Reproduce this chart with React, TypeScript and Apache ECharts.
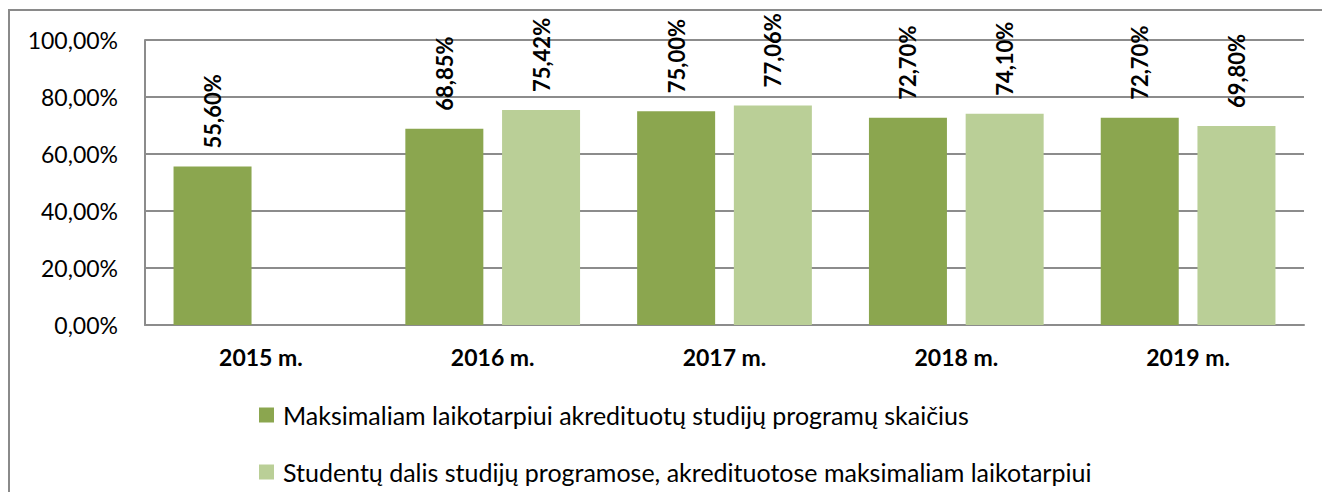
import React, { useEffect, useRef } from "react";
import * as echarts from "echarts";

const categories = ["2015 m.", "2016 m.", "2017 m.", "2018 m.", "2019 m."];
const seriesNames = [
  "Maksimaliam laikotarpiui akredituotų studijų programų skaičius",
  "Studentų dalis studijų programose, akredituotose maksimaliam laikotarpiui",
];
const programShare = [55.6, 68.85, 75.0, 72.7, 72.7];
const studentShare: (number | null)[] = [null, 75.42, 77.06, 74.1, 69.8];

const fmt = (v: number) => v.toFixed(2).replace(".", ",") + "%";
const FONT = "Lato, 'Noto Sans', sans-serif";

export default function App() {
  const ref = useRef<HTMLDivElement>(null);
  useEffect(() => {
    if (!ref.current) return;
    const chart = echarts.init(ref.current, undefined, { renderer: "svg" });
    const label = {
      show: true,
      position: "top" as const,
      rotate: 90,
      align: "left" as const,
      verticalAlign: "middle" as const,
      distance: 18,
      fontSize: 22,
      fontWeight: "bold" as const,
      color: "#000",
      fontFamily: FONT,
      formatter: (p: any) => fmt(p.value),
    };
    chart.setOption({
      animation: false,
      textStyle: { fontFamily: FONT },
      graphic: [
        {
          type: "rect",
          shape: { x: 9, y: 10, width: 1400, height: 600 },
          style: { fill: "none", stroke: "#8a8a8a", lineWidth: 2 },
          silent: true,
        },
      ],
      grid: { left: 145, right: 18, top: 40, bottom: 167, containLabel: false },
      legend: {
        orient: "vertical",
        left: 259,
        top: 400,
        padding: 0,
        height: 92,
        itemWidth: 15,
        itemHeight: 15,
        itemGap: 27,
        icon: "rect",
        textStyle: { fontSize: 25, lineHeight: 30, color: "#000", fontFamily: FONT, padding: [0, 0, 0, 4] },
        data: seriesNames,
      },
      xAxis: {
        type: "category",
        data: categories,
        axisLine: { lineStyle: { color: "#8c8c8c", width: 2 } },
        axisTick: { show: false },
        axisLabel: {
          fontSize: 23,
          fontWeight: "bold",
          color: "#000",
          margin: 20,
          fontFamily: FONT,
        },
      },
      yAxis: {
        type: "value",
        min: 0,
        max: 100,
        interval: 20,
        axisLine: { show: true, lineStyle: { color: "#8c8c8c", width: 2 } },
        axisTick: { show: false },
        splitLine: { lineStyle: { color: "#8c8c8c", width: 2 } },
        axisLabel: {
          fontSize: 23,
          color: "#000",
          margin: 27,
          fontFamily: FONT,
          formatter: (v: number) => fmt(v),
        },
      },
      series: [
        {
          name: seriesNames[0],
          type: "bar",
          data: programShare,
          barWidth: 78,
          barGap: "24%",
          itemStyle: { color: "#8ba64f" },
          label,
        },
        {
          name: seriesNames[1],
          type: "bar",
          data: studentShare,
          barWidth: 78,
          itemStyle: { color: "#bacf97" },
          label,
        },
      ],
    });
    return () => chart.dispose();
  }, []);
  return (
    <div
      ref={ref}
      style={{ position: "fixed", left: 0, top: 0, width: 1322, height: 492, background: "#fff" }}
    />
  );
}
